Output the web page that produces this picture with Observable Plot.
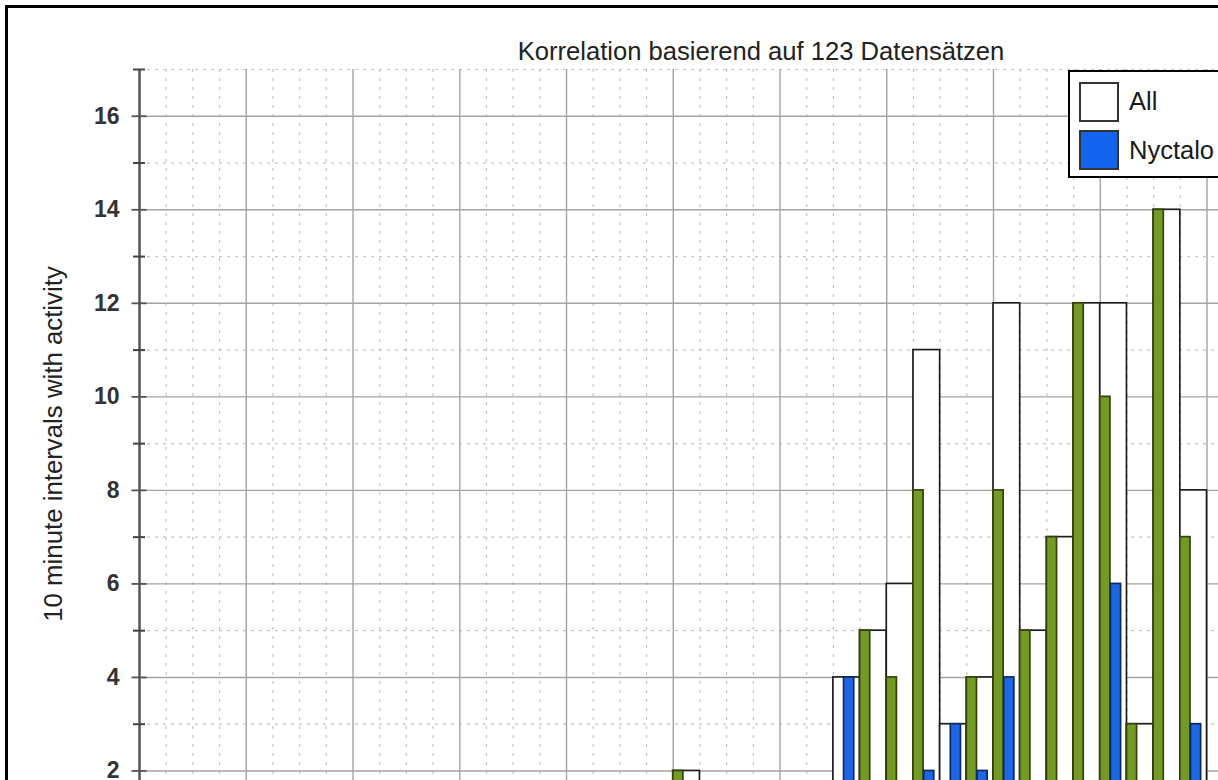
<!DOCTYPE html>
<html>
<head>
<meta charset="utf-8">
<script src="https://cdn.jsdelivr.net/npm/d3@7"></script>
<script src="https://cdn.jsdelivr.net/npm/@observablehq/plot@0.6"></script>
<style>
  html, body { margin: 0; padding: 0; background: #fff; overflow: hidden; width: 1218px; height: 780px; }
  #wrap { position: relative; width: 1218px; height: 780px; overflow: hidden; font-family: "Liberation Sans", Arial, sans-serif; }
  #chart { position: absolute; left: 0; top: 0; }
  #frame { position: absolute; left: 5px; top: 5px; width: 2000px; height: 2000px; border: 3px solid #000; box-sizing: border-box; pointer-events: none; }
  #title { position: absolute; left: 0; width: 1522px; top: 38.5px; text-align: center; font-size: 25.6px; line-height: 25.6px; color: #222; white-space: nowrap; }
  #ylabel { position: absolute; left: 53px; top: 444px; transform: translate(-50%, -50%) rotate(-90deg); font-size: 25.8px; color: #222; white-space: nowrap; }
  #legend { position: absolute; left: 1068px; top: 70px; width: 260px; height: 108px; border: 2.5px solid #000; background: #fff; box-sizing: border-box; }
  .sw { position: absolute; left: 8.5px; width: 40px; height: 40px; box-sizing: border-box; border: 2px solid #333; }
  .lt { position: absolute; left: 59px; font-size: 25.5px; line-height: 25px; color: #1a1a1a; white-space: nowrap; }
</style>
</head>
<body>
<div id="wrap">
  <div id="chart"></div>
  <div id="title"></div>
  <div id="ylabel"></div>
  <div id="legend"></div>
  <div id="frame"></div>
</div>
<script>
// ---- data ----
const titleText = "Korrelation basierend auf 123 Datensätzen";
const yLabelText = "10 minute intervals with activity";
const seriesNames = ["All", "Nyctalo"];
const seriesColors = ["#ffffff", "#1463ee"];

// bin index of each category along the x axis (x axis itself is cut off)
const binIndex = [0,1,2,3,4,5,6,7,8,9,10,11,12,13,14,15,16,17,18,19,20,21,22,23,24,25,26,27,28,29,30,31,32,33,34,35,36,37,38,39];
const allCounts =     [0,0,0,0,0,0,0,0,0,0,0,0,0,0,0,0,0,0,0,0,2,0,0,0,0,0,4,5,6,11,3,4,12,5,7,12,12,3,14,8];
const greenCounts =   [0,0,0,0,0,0,0,0,0,0,0,0,0,0,0,0,0,0,0,0,2,0,0,0,0,0,0,5,4,8,0,4,8,5,7,12,10,3,14,7];
const nyctaloCounts = [0,0,0,0,0,0,0,0,0,0,0,0,0,0,0,0,0,0,0,0,0,0,0,0,0,0,4,0,0,2,3,2,4,0,0,0,6,0,0,3];

const yMajorTicks = [0,2,4,6,8,10,12,14,16];
const yMinorTicks = [1,3,5,7,9,11,13,15,17];
const xMajorGrid = [4,8,12,16,20,24,28,32,36,40];
const xMinorGrid = [1,2,3,5,6,7,9,10,11,13,14,15,17,18,19,21,22,23,25,26,27,29,30,31,33,34,35,37,38,39,41];

// ---- build table ----
const rows = binIndex.map((b, i) => ({bin: b, all: allCounts[i], green: greenCounts[i], blue: nyctaloCounts[i]}));

const gridSolid = "#a3a3a3";
const gridDot = "#c4c4c4";

const chart = Plot.plot({
  width: 1218,
  height: 900,
  marginLeft: 139,
  marginRight: 0,
  marginTop: 69,
  marginBottom: 36,
  style: {fontFamily: "'Liberation Sans', Arial, sans-serif", background: "transparent"},
  x: {domain: [0, 40.43], axis: null},
  y: {domain: [0, 17], axis: null},
  marks: [
    // grid
    Plot.ruleY(yMinorTicks, {y: d => d, stroke: gridDot, strokeWidth: 1.2, strokeDasharray: "3,5"}),
    Plot.ruleX(xMinorGrid, {x: d => d, y1: 0, y2: 17, stroke: gridDot, strokeWidth: 1.2, strokeDasharray: "3,6"}),
    Plot.ruleY(yMajorTicks.filter(d => d > 0), {y: d => d, stroke: gridSolid, strokeWidth: 1.4}),
    Plot.ruleX(xMajorGrid, {x: d => d, y1: 0, y2: 17, stroke: gridSolid, strokeWidth: 1.4}),
    // bars
    Plot.rectY(rows.filter(d => d.all > 0), {x1: d => d.bin, x2: d => d.bin + 1, y: "all", fill: "#ffffff", stroke: "#1e1e1e", strokeWidth: 1.7}),
    Plot.rectY(rows.filter(d => d.green > 0), {x1: d => d.bin, x2: d => d.bin + 0.38, y: "green", fill: "#729a24", stroke: "#33430e", strokeWidth: 1.7}),
    Plot.rectY(rows.filter(d => d.blue > 0), {x1: d => d.bin + 0.4, x2: d => d.bin + 0.78, y: "blue", fill: "#1f66e2", stroke: "#0c2a6a", strokeWidth: 1.7}),
    // axis line and ticks
    Plot.ruleX([0], {y1: 0, y2: 17, stroke: "#555", strokeWidth: 2.5}),
    Plot.axisY(yMinorTicks, {tickSize: 12, dx: 6, tickFormat: () => "", stroke: "#444", strokeWidth: 2}),
    Plot.axisY(yMajorTicks, {tickSize: 15, dx: 7.5, tickPadding: 12.5, stroke: "#555", strokeWidth: 1.8,
      fill: "#333", fontSize: 23, fontWeight: "bold", label: null})
  ]
});
document.getElementById("chart").appendChild(chart);

document.getElementById("title").textContent = titleText;
document.getElementById("ylabel").textContent = yLabelText;

const legend = document.getElementById("legend");
seriesNames.forEach((name, i) => {
  const sw = document.createElement("div");
  sw.className = "sw";
  sw.style.top = (9.5 + i * 48) + "px";
  sw.style.background = seriesColors[i];
  legend.appendChild(sw);
  const t = document.createElement("div");
  t.className = "lt";
  t.style.top = (16.5 + i * 49) + "px";
  t.textContent = name;
  legend.appendChild(t);
});
</script>
</body>
</html>
